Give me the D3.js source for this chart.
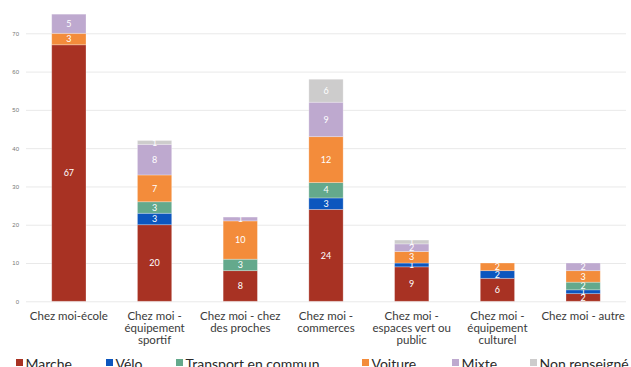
<!DOCTYPE html>
<html>
<head>
<meta charset="utf-8">
<script src="https://cdn.jsdelivr.net/npm/d3@7"></script>
<style>
  body { margin: 0; background: #fff; }
  svg { display: block; font-family: Lato, "Open Sans", sans-serif; }
</style>
</head>
<body>
<svg id="chart" width="631" height="367"></svg>
<script>
// categories (lines of the x labels)
let categories = [
  ["Chez moi-école"],
  ["Chez moi -", "équipement", "sportif"],
  ["Chez moi - chez", "des proches"],
  ["Chez moi -", "commerces"],
  ["Chez moi -", "espaces vert ou", "public"],
  ["Chez moi -", "équipement", "culturel"],
  ["Chez moi - autre"]
];
let modes = ["Marche", "Vélo", "Transport en commun", "Voiture", "Mixte", "Non renseigné"];
let colors = ["#a83223", "#0c56be", "#64a98c", "#f38c3b", "#bea9cf", "#cdcccc"];

// values per mode, one per category
let marche    = [67, 20, 8, 24, 9, 6, 2];
let velo      = [0, 3, 0, 3, 1, 2, 1];
let transport = [0, 3, 3, 4, 0, 0, 2];
let voiture   = [3, 7, 10, 12, 3, 2, 3];
let mixte     = [5, 8, 1, 9, 2, 0, 2];
let nonRens   = [0, 1, 0, 6, 1, 0, 0];
let yTicks = [0, 10, 20, 30, 40, 50, 60, 70];

let series = [marche, velo, transport, voiture, mixte, nonRens];

let svg = d3.select('#chart');

//build rows for the stack
let rows = categories.map(function(c, i) {
  let row = { idx: i };
  modes.forEach(function(m, j) { row[m] = series[j][i]; });
  return row;
});
let stacked = d3.stack().keys(modes)(rows);

let x = d3.scaleBand()
  .domain(d3.range(categories.length))
  .range([26, 626])
  .paddingInner(0.6)
  .paddingOuter(0.3);
let y = d3.scaleLinear()
  .domain([0, 70])
  .range([301.3, 33.3]);

//gridlines + tick labels
let yAxis = svg.append("g")
  .attr("transform", "translate(26,0)")
  .call(d3.axisLeft(y).tickValues(yTicks).tickSize(-600).tickPadding(7));
yAxis.select(".domain").remove();
yAxis.selectAll(".tick line").attr("stroke", "#e9e9e9").attr("stroke-width", 1);
yAxis.selectAll(".tick text")
  .attr("fill", "#777")
  .style("font-size", "6px");

//bars
let layer = svg.append("g").selectAll("g")
  .data(stacked)
  .join("g")
  .attr("fill", function(d, i) { return colors[i]; });

layer.selectAll("rect")
  .data(function(d) { return d.filter(function(s) { return s[1] > s[0]; }); })
  .join("rect")
  .attr("x", function(d) { return x(d.data.idx); })
  .attr("y", function(d) { return y(d[1]); })
  .attr("width", x.bandwidth())
  .attr("height", function(d) { return y(d[0]) - y(d[1]); })
  .attr("stroke", "#fff")
  .attr("stroke-opacity", 0.35)
  .attr("stroke-width", 0.8);

//value labels
layer.selectAll("text")
  .data(function(d) { return d.filter(function(s) { return s[1] > s[0]; }); })
  .join("text")
  .attr("x", function(d) { return x(d.data.idx) + x.bandwidth() / 2; })
  .attr("y", function(d) { return (y(d[0]) + y(d[1])) / 2; })
  .attr("dy", "0.35em")
  .attr("text-anchor", "middle")
  .attr("fill", "#fff")
  .style("font-size", "9px")
  .text(function(d) { return d[1] - d[0]; });

//category labels
let xl = svg.append("g").selectAll("text")
  .data(categories)
  .join("text")
  .attr("x", function(d, i) { return x(i) + x.bandwidth() / 2; })
  .attr("y", 319.5)
  .attr("text-anchor", "middle")
  .attr("fill", "#3a3a3a")
  .style("font-size", "11.5px");
xl.selectAll("tspan")
  .data(function(d) { return d; })
  .join("tspan")
  .attr("x", function() { return this.parentNode.getAttribute("x"); })
  .attr("dy", function(d, i) { return i === 0 ? 0 : 12; })
  .text(function(d) { return d; });

//legend
let legendX = [16, 106, 176, 362, 452, 530];
let legend = svg.append("g").selectAll("g")
  .data(modes)
  .join("g")
  .attr("transform", function(d, i) { return "translate(" + legendX[i] + ",0)"; });
legend.append("rect")
  .attr("y", 359)
  .attr("width", 7)
  .attr("height", 7)
  .attr("fill", function(d, i) { return colors[i]; });
legend.append("text")
  .attr("x", 9.5)
  .attr("y", 368.5)
  .attr("fill", "#2a2a2a")
  .style("font-size", "14px")
  .text(function(d) { return d; });
</script>
</body>
</html>
